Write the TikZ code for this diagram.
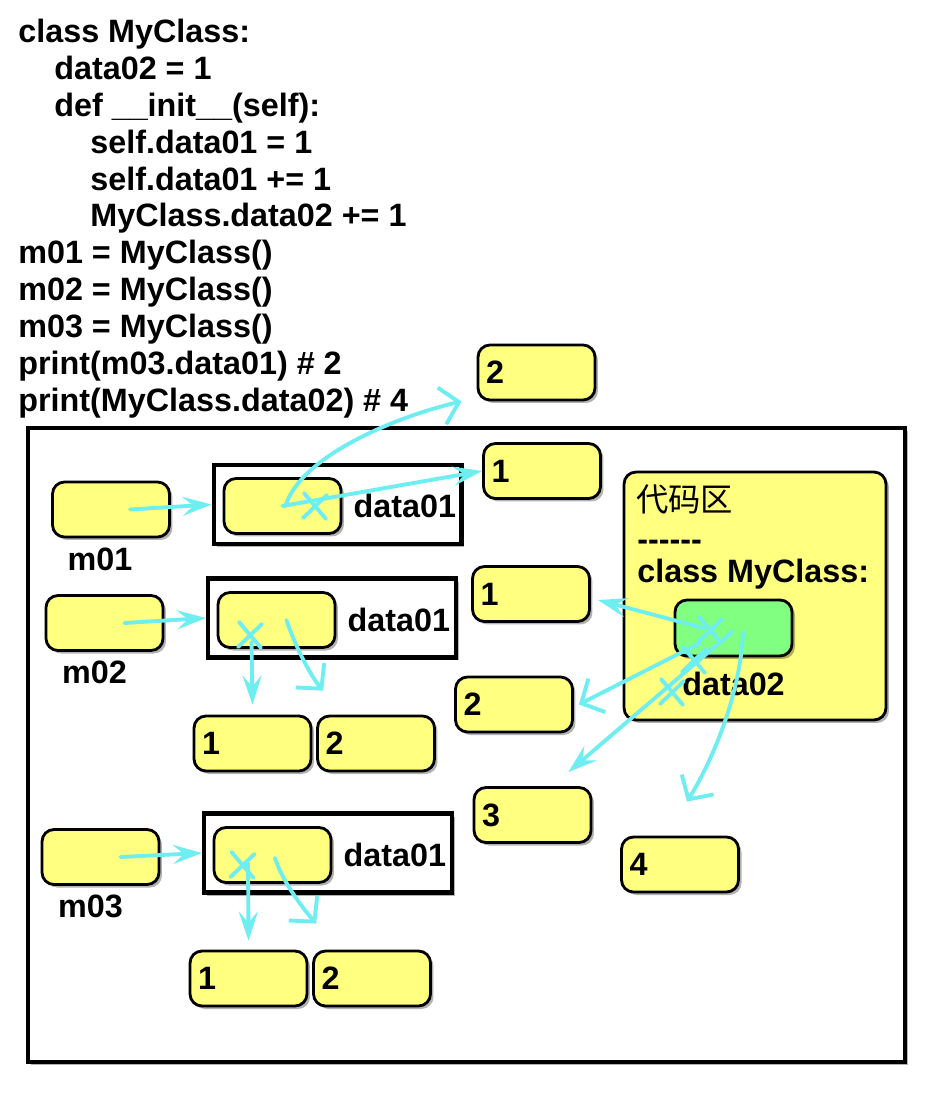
\documentclass[tikz,border=0pt]{standalone}
\usepackage{fontspec}
\setmainfont{Liberation Sans}
\newfontfamily\cjk{Noto Sans CJK SC}
\usepackage{tikz}
\usetikzlibrary{positioning,calc,shadows,arrows.meta}
\definecolor{cellyellow}{RGB}{255,255,128}
\definecolor{cellgreen}{RGB}{128,255,128}
\definecolor{ptrcyan}{RGB}{110,238,240}
\tikzset{
  softshadow/.style = {drop shadow={shadow xshift=0.06cm, shadow yshift=-0.06cm,
    opacity=0.3, fill=black}},
  txt/.style = {font=\fontsize{18.4}{21}\bfseries},
  codeline/.style = {txt, anchor=base west, inner sep=0pt},
  cell/.style = {draw=black, line width=1.6pt, rounded corners=0.24cm, fill=cellyellow,
    minimum width=2.34cm, minimum height=1.1cm, inner xsep=0.16cm, text width=2.02cm,
    align=left, txt, softshadow},% one value
  slot/.style = {draw=black, line width=2.3pt, fill=white,
    minimum width=4.96cm, minimum height=1.58cm, softshadow},% a data01 attribute
  codearea/.style = {draw=black, line width=1.6pt, rounded corners=0.24cm, fill=cellyellow,
    minimum width=5.24cm, minimum height=4.96cm, softshadow},
  ptr/.style = {draw=ptrcyan, line width=2.2pt, line cap=round,
    -{Stealth[length=0.58cm, width=0.38cm, inset=0.22cm]}},
  ptrhand/.style = {draw=ptrcyan, line width=2.2pt, line cap=round, line join=round,
    -{Straight Barb[length=0.35cm, width=0.75cm]}},
  xmark/.pic = {
    \draw[ptrcyan, line width=2.2pt, line cap=round]
      (-0.22cm,0.26cm) -- (0.22cm,-0.26cm) (0.24cm,0.22cm) -- (-0.24cm,-0.24cm);
  }
}

\begin{document}
\begin{tikzpicture}[x=0.02cm, y=-0.02cm]
\useasboundingbox (0,0) rectangle (927,1101);

% source code
\foreach \ind/\txt [count=\i from 0] in {0/class MyClass:, 1/data02 = 1,
    1/def \_\_init\_\_(self):, 2/self.data01 = 1, 2/self.data01 += 1,
    2/MyClass.data02 += 1, 0/m01 = MyClass(), 0/m02 = MyClass(),
    0/m03 = MyClass(), 0/print(m03.data01) \# 2, 0/print(MyClass.data02) \# 4}
  \node[codeline] (line\i) at (18+36*\ind, 43+36.8*\i) {\txt};

% memory
\node[draw=black, line width=2.5pt, fill=white, minimum width=17.54cm,
  minimum height=12.68cm, softshadow] (mem) at (466.5,745) {};

\node[cell] (top2) at (536.5,372.5) {2};
\node[cell] (new1) at (542,471) {1};

\node[cell] (m01) at (111,509.5) {};
\node[txt, below=0.06cm of m01, xshift=-0.22cm] (m01l) {m01};
\node[slot] (f1) at (337.5,504.5) {};
\node[cell] (in1) at (282.5,506) {};
\node[txt, right=0.1cm of in1] (d1) {data01};

\node[cell] (m02) at (104.5,623) {};
\node[txt, below=0.06cm of m02, xshift=-0.2cm] (m02l) {m02};
\node[slot] (f2) at (332,618) {};
\node[cell] (in2) at (276.5,620) {};
\node[txt, right=0.1cm of in2] (d2) {data01};
\node[cell] (b21) at (252.5,743.5) {1};
\node[cell] (b22) at (376,743.5) {2};

\node[cell] (m03) at (100.5,857) {};
\node[txt, below=0.06cm of m03, xshift=-0.2cm] (m03l) {m03};
\node[slot] (f3) at (328,853) {};
\node[cell] (in3) at (272.5,855) {};
\node[txt, right=0.1cm of in3] (d3) {data01};
\node[cell] (b31) at (248.5,978.5) {1};
\node[cell] (b32) at (372,978.5) {2};

\node[cell] (v1) at (531,594) {1};
\node[cell] (v2) at (514,704.5) {2};
\node[cell] (v3) at (532.5,815) {3};
\node[cell] (v4) at (680,864.5) {4};

% class area
\node[codearea] (area) at (755,596) {};
\node[txt, anchor=west, font={\fontsize{18.4}{21}\selectfont\cjk}] (ah)
  at ([xshift=0.15cm, yshift=-0.58cm]area.north west) {代码区};
\node[txt, anchor=west] (ad) at ([xshift=0.17cm, yshift=-1.5cm]area.north west) {-{}-{}-{}-{}-{}-};
\node[txt, anchor=west] (ac) at ([xshift=0.17cm, yshift=-2.08cm]area.north west) {class MyClass:};
\node[cell, fill=cellgreen, minimum width=2.3cm, minimum height=1.12cm] (g) at (733.5,628) {};
\node[txt, below=0.16cm of g] (d02) {data02};

% references
\draw[ptr] ([xshift=0.38cm]m01.center) -- (f1.west);
\draw[ptr] ([xshift=0.4cm]m02.center) -- (f2.west);
\draw[ptr] ([xshift=0.4cm]m03.center) -- (f3.west);

\draw[ptrhand] ([xshift=0.06cm]in1.center) .. controls +(15,-50) and +(-65,15) ..
  ([xshift=-0.3cm]top2.south west);
\draw[ptr] (in1.center) -- (new1.west);
\pic at ([xshift=0.65cm]in1.center) {xmark};

\pic at ([xshift=-0.53cm, yshift=-0.3cm]in2.center) {xmark};
\draw[ptr] ([xshift=-0.5cm, yshift=-0.44cm]in2.center) -- ([yshift=0.2cm]b21.north);
\draw[ptrhand] ([xshift=0.2cm]in2.center) .. controls +(8,25) and +(-12,-14) ..
  ([xshift=0.14cm, yshift=0.48cm]b22.north west);

\pic at ([xshift=-0.6cm, yshift=-0.2cm]in3.center) {xmark};
\draw[ptr] ([xshift=-0.49cm, yshift=-0.16cm]in3.center) -- ([yshift=0.18cm]b31.north);
\draw[ptrhand] ([xshift=0.05cm, yshift=-0.06cm]in3.center) .. controls +(8,25) and +(-12,-14) ..
  ([xshift=0.08cm, yshift=0.52cm]b32.north west);

\draw[ptr] ([xshift=-0.6cm]g.center) -- ([xshift=0.14cm, yshift=-0.12cm]v1.east);
\draw[ptrhand] ([xshift=-0.67cm, yshift=-0.3cm]g.center) -- ([xshift=0.1cm]v2.east);
\draw[ptr] ([xshift=-0.03cm, yshift=-0.08cm]g.center) --
  ([xshift=-0.48cm, yshift=0.28cm]v3.north east);
\draw[ptrhand] ([xshift=0.19cm, yshift=-0.08cm]g.center) .. controls +(-3,70) and +(20,-32) ..
  ([xshift=0.14cm, yshift=0.68cm]v4.north);
\pic at ([xshift=-0.47cm, yshift=-0.04cm]g.center) {xmark};
\pic at ([xshift=-0.79cm, yshift=-0.64cm]g.center) {xmark};
\pic at ([xshift=-1.23cm, yshift=-1.28cm]g.center) {xmark};
\end{tikzpicture}
\end{document}
